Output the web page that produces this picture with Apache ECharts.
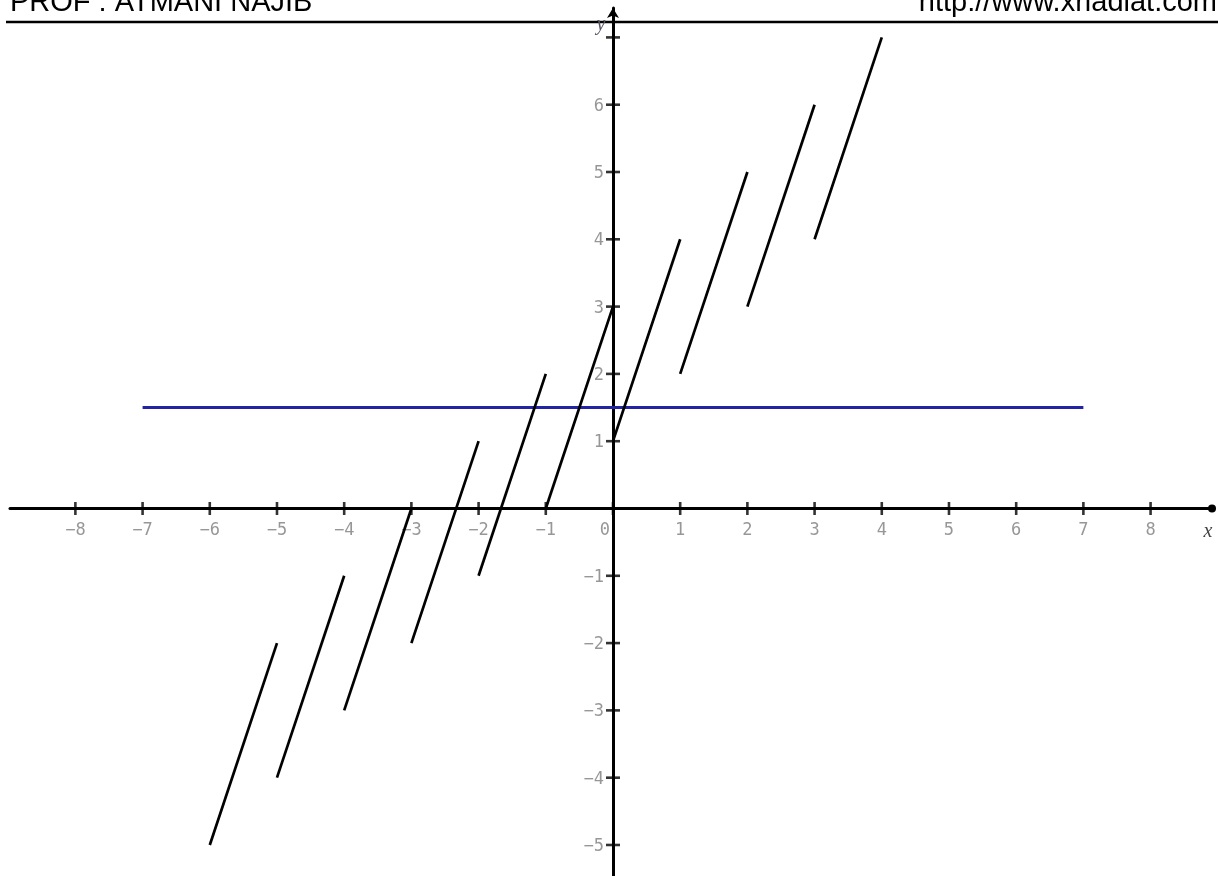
<!DOCTYPE html>
<html>
<head>
<meta charset="utf-8">
<script src="https://cdn.jsdelivr.net/npm/echarts@6/dist/echarts.min.js"></script>
<style>
html,body{margin:0;padding:0;background:#fff;}
#chart{width:1218px;height:876px;}
</style>
</head>
<body>
<div id="chart"></div>
<script>
// ---- data ----
const segStartX = [-6, -5, -4, -3, -2, -1, 0, 1, 2, 3];
const segStartY = [-5, -4, -3, -2, -1, 0, 1, 2, 3, 4];
const segEndX   = [-5, -4, -3, -2, -1, 0, 1, 2, 3, 4];
const segEndY   = [-2, -1, 0, 1, 2, 3, 4, 5, 6, 7];
const hLineX = [-7, 7];
const hLineY = [1.5, 1.5];
const xTicks = [-8, -7, -6, -5, -4, -3, -2, -1, 0, 1, 2, 3, 4, 5, 6, 7, 8];
const xTickLabels = [-8, -7, -6, -5, -4, -3, -2, -1, 0, 1, 2, 3, 4, 5, 6, 7, 8];
const yTicks = [-5, -4, -3, -2, -1, 1, 2, 3, 4, 5, 6, 7];
const yTickLabels = [-5, -4, -3, -2, -1, 1, 2, 3, 4, 5, 6];
const headerLeft = 'PROF : ATMANI NAJIB';
const headerRight = 'http://www.xriadiat.com';
const xName = 'x';
const yName = 'y';

const chart = echarts.init(document.getElementById('chart'), null, {renderer: 'canvas'});

const fmtNum = n => (n < 0 ? '\u2212' + (-n) : '' + n);
const labelFont = {fontFamily: 'DejaVu Sans Mono', fontSize: 17, color: '#7d7d7d'};

const series = [];
series.push({
  type: 'line',
  data: hLineX.map((x, i) => [x, hLineY[i]]),
  showSymbol: false,
  lineStyle: {color: '#2323a6', width: 3},
  z: 2,
  silent: true
});
for (let i = 0; i < segStartX.length; i++) {
  series.push({
    type: 'line',
    data: [[segStartX[i], segStartY[i]], [segEndX[i], segEndY[i]]],
    showSymbol: false,
    lineStyle: {color: '#000', width: 2.7},
    z: 3,
    silent: true
  });
}
// tick marks crossing the axes
series.push({
  type: 'scatter',
  data: xTicks.map(x => [x, 0]),
  symbol: 'rect',
  symbolSize: [2.6, 13],
  itemStyle: {color: '#000'},
  z: 4,
  silent: true
});
series.push({
  type: 'scatter',
  data: yTicks.map(y => [0, y]),
  symbol: 'rect',
  symbolSize: [14, 2.6],
  itemStyle: {color: '#000'},
  z: 4,
  silent: true
});
// tick labels
series.push({
  type: 'scatter',
  data: xTickLabels.map(x => ({
    value: [x, 0],
    label: x === 0 ? {offset: [-8, 22]} : undefined
  })),
  symbolSize: 0,
  itemStyle: {color: 'rgba(0,0,0,0)'},
  label: Object.assign({
    show: true, position: 'inside', offset: [0, 22],
    align: 'center', verticalAlign: 'middle',
    formatter: p => fmtNum(p.value[0])
  }, labelFont),
  z: 1,
  silent: true
});
series.push({
  type: 'scatter',
  data: yTickLabels.map(y => [0, y]),
  symbolSize: 0,
  itemStyle: {color: 'rgba(0,0,0,0)'},
  label: Object.assign({
    show: true, position: 'inside', offset: [-9, 1.5],
    align: 'right', verticalAlign: 'middle',
    formatter: p => fmtNum(p.value[1])
  }, labelFont),
  z: 1,
  silent: true
});

chart.setOption({
  animation: false,
  backgroundColor: '#fff',
  grid: {left: 10, right: 6, top: 8, bottom: 0, containLabel: false, outerBoundsMode: 'none'},
  xAxis: {
    type: 'value',
    min: -8.973, max: 8.914,
    splitLine: {show: false},
    axisTick: {show: false},
    axisLabel: {show: false},
    axisLine: {onZero: true, lineStyle: {color: '#000', width: 3}, symbol: ['none', 'circle'], symbolSize: [8, 8]}
  },
  yAxis: {
    type: 'value',
    min: -5.461, max: 7.437,
    splitLine: {show: false},
    axisTick: {show: false},
    axisLabel: {show: false},
    axisLine: {onZero: true, lineStyle: {color: '#000', width: 3}, symbol: ['none', 'arrow'], symbolSize: [9, 10]}
  },
  graphic: [
    {type: 'text', x: 10, y: 2.5, style: {text: headerLeft, fontFamily: 'Liberation Sans', fontSize: 29, fill: '#000', align: 'left', verticalAlign: 'middle'}},
    {type: 'text', x: 1217, y: 2.5, style: {text: headerRight, fontFamily: 'Liberation Sans', fontSize: 29, fill: '#000', align: 'right', verticalAlign: 'middle'}},
    {type: 'line', shape: {x1: 6, y1: 22, x2: 1218, y2: 22}, style: {stroke: '#000', lineWidth: 2.6}},
    {type: 'text', x: 1208, y: 532, style: {text: xName, fontFamily: 'Liberation Serif', fontStyle: 'italic', fontSize: 20, fill: '#444', align: 'center', verticalAlign: 'middle'}},
    {type: 'text', x: 601, y: 25, style: {text: yName, fontFamily: 'Liberation Serif', fontStyle: 'italic', fontSize: 20, fill: '#556', align: 'center', verticalAlign: 'middle'}}
  ],
  series: series
});
</script>
</body>
</html>
